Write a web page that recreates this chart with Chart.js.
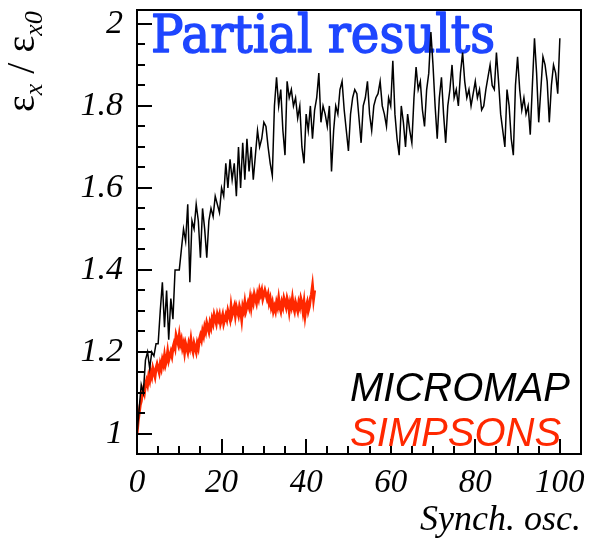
<!DOCTYPE html>
<html>
<head>
<meta charset="utf-8">
<script src="https://cdn.jsdelivr.net/npm/chart.js@4.4.1/dist/chart.umd.min.js"></script>
<style>
  html, body { margin: 0; padding: 0; background: #fff; }
</style>
</head>
<body>
<canvas id="emitChart" width="592" height="542"></canvas>
<script>
// tick labels
const xTickLabels = [0, 20, 40, 60, 80, 100];
const yTickLabels = [1, 1.2, 1.4, 1.6, 1.8, 2];

// MICROMAP: one sample every 0.5 synch. osc., 0 .. 100
const micromapStep = 0.5;
const micromap = [
  1.00, 1.06, 1.12, 1.10, 1.18, 1.20, 1.16, 1.20, 1.19, 1.22,
  1.22, 1.30, 1.37, 1.26, 1.35, 1.23, 1.33, 1.28, 1.40, 1.40,
  1.40, 1.45, 1.50, 1.47, 1.56, 1.37, 1.52, 1.50, 1.56, 1.52,
  1.43, 1.55, 1.50, 1.43, 1.52, 1.55, 1.53, 1.58, 1.56, 1.54,
  1.60, 1.58, 1.66, 1.60, 1.67, 1.62, 1.66, 1.58, 1.70, 1.60,
  1.71, 1.62, 1.72, 1.64, 1.70, 1.62, 1.68, 1.74, 1.70, 1.72,
  1.76, 1.75, 1.70, 1.66, 1.63, 1.80, 1.87, 1.80, 1.84, 1.74,
  1.68, 1.86, 1.82, 1.84, 1.80, 1.82, 1.77, 1.80, 1.70, 1.66,
  1.78, 1.74, 1.80, 1.72, 1.79, 1.82, 1.88, 1.76, 1.80, 1.78,
  1.75, 1.80, 1.64, 1.74, 1.80, 1.78, 1.84, 1.86, 1.79, 1.74,
  1.69, 1.78, 1.82, 1.84, 1.83, 1.77, 1.71, 1.80, 1.82, 1.86,
  1.78, 1.74, 1.80, 1.82, 1.83, 1.86, 1.80, 1.78, 1.75, 1.82,
  1.80, 1.91, 1.78, 1.72, 1.68, 1.80, 1.76, 1.70, 1.78, 1.74,
  1.71, 1.82, 1.895, 1.84, 1.86, 1.79, 1.75, 1.84, 1.88, 1.98,
  1.90, 1.80, 1.72, 1.82, 1.87, 1.78, 1.71, 1.80, 1.84, 1.90,
  1.82, 1.84, 1.80, 1.88, 1.93, 1.86, 1.82, 1.84, 1.80, 1.83,
  1.86, 1.82, 1.84, 1.79, 1.80, 1.84, 1.87, 1.90, 1.85, 1.84,
  1.93, 1.86, 1.78, 1.74, 1.70, 1.84, 1.80, 1.72, 1.68, 1.85,
  1.92, 1.84, 1.79, 1.82, 1.78, 1.80, 1.73, 1.85, 1.965, 1.88,
  1.76, 1.84, 1.92, 1.90, 1.86, 1.76, 1.85, 1.90, 1.88, 1.83,
  1.965
];

// SIMPSONS: one sample every 0.25 synch. osc., 0 .. 42
const simpsonsStep = 0.25;
const simpsons = [
  1.00, 1.03, 1.05, 1.07, 1.08,
  1.10, 1.11, 1.10, 1.12,  1.13, 1.12, 1.14, 1.13,
  1.15, 1.14, 1.16, 1.15,  1.14, 1.16, 1.17, 1.16,
  1.15, 1.17, 1.16, 1.18,  1.17, 1.19, 1.17, 1.18,
  1.20, 1.18, 1.19, 1.20,  1.19, 1.21, 1.22, 1.21,
  1.24, 1.23, 1.22, 1.24,  1.22, 1.23, 1.21, 1.22,
  1.20, 1.22, 1.21, 1.20,  1.22, 1.21, 1.23, 1.21,
  1.20, 1.22, 1.21, 1.20,  1.22, 1.21, 1.23, 1.24,
  1.23, 1.25, 1.24, 1.26,  1.25, 1.27, 1.26, 1.25,
  1.27, 1.26, 1.28, 1.27,  1.29, 1.28, 1.27, 1.29,
  1.28, 1.29, 1.27, 1.28,  1.29, 1.27, 1.28, 1.29,
  1.28, 1.30, 1.29, 1.28,  1.31, 1.29, 1.30, 1.31,
  1.29, 1.31, 1.30, 1.29,  1.31, 1.30, 1.28, 1.31,
  1.30, 1.32, 1.30, 1.31,  1.32, 1.31, 1.33, 1.31,
  1.33, 1.32, 1.34, 1.33,  1.32, 1.34, 1.33, 1.35,
  1.34, 1.35, 1.33, 1.34,  1.35, 1.34, 1.33, 1.34,
  1.32, 1.33, 1.31, 1.32,  1.30, 1.31, 1.30, 1.32,
  1.31, 1.33, 1.31, 1.30,  1.32, 1.31, 1.33, 1.32,
  1.31, 1.33, 1.32, 1.30,  1.32, 1.31, 1.33, 1.31,
  1.30, 1.32, 1.31, 1.30,  1.32, 1.31, 1.33, 1.32,
  1.30, 1.32, 1.29, 1.31,  1.32, 1.30, 1.31, 1.33,
  1.34, 1.36, 1.33, 1.35
];

const seriesNames = ['MICROMAP', 'SIMPSONS'];
const seriesColors = ['#000000', '#ff2800'];

const xMinorStep = 5, xMajorStep = 20;
const yMinorStep = 0.05, yMajorStep = 0.2;

function toPoints(values, step) {
  return values.map(function (v, i) { return { x: i * step, y: v }; });
}

// frame + inward ticks, headline, legend words and y title
const frameTicks = {
  id: 'frameTicks',
  beforeDatasetsDraw(chart) {
    const ctx = chart.ctx;
    ctx.save();
    ctx.fillStyle = '#1e46ff';
    ctx.strokeStyle = '#1e46ff';
    ctx.lineWidth = 1.6;
    ctx.lineJoin = 'round';
    ctx.font = '53px "DejaVu Serif"';
    ctx.textBaseline = 'alphabetic';
    const txt = 'Partial results';
    const w = ctx.measureText(txt).width;
    ctx.translate(151, 52);
    ctx.scale(344 / w, 1);
    ctx.fillText(txt, 0, 0);
    ctx.strokeText(txt, 0, 0);
    ctx.restore();
  },
  afterDraw(chart) {
    const ctx = chart.ctx, a = chart.chartArea;
    const xs = chart.scales.x, ys = chart.scales.y;

    ctx.save();
    ctx.strokeStyle = '#000';
    ctx.lineWidth = 2;
    for (let i = 0; i <= 21; i++) {
      const v = i * xMinorStep;
      if (v > xs.max) break;
      const px = Math.round(xs.getPixelForValue(v));
      const len = (v % xMajorStep === 0) ? 15 : 8;
      ctx.beginPath();
      ctx.moveTo(px, a.bottom);
      ctx.lineTo(px, a.bottom - len);
      ctx.stroke();
    }
    for (let i = 0; i <= 41; i++) {
      const v = i * yMinorStep;
      if (v < ys.min || v > ys.max) continue;
      const py = Math.round(ys.getPixelForValue(v));
      const major = Math.abs(v / yMajorStep - Math.round(v / yMajorStep)) < 1e-6;
      ctx.beginPath();
      ctx.moveTo(a.left, py);
      ctx.lineTo(a.left + (major ? 15 : 8), py);
      ctx.stroke();
    }
    ctx.strokeRect(a.left, a.top, a.right - a.left, a.bottom - a.top);
    ctx.restore();

    // legend as plain coloured words
    ctx.save();
    ctx.font = 'italic 40px "Liberation Sans"';
    ctx.textBaseline = 'alphabetic';
    chart.data.datasets.forEach(function (ds, i) {
      ctx.fillStyle = ds.borderColor;
      ctx.fillText(ds.label, 350, 401 + i * 45);
    });
    ctx.restore();

    // y title: eps_x / eps_x0, rotated
    ctx.save();
    ctx.translate(34, 112);
    ctx.rotate(-Math.PI / 2);
    ctx.fillStyle = '#000';
    let x = 0;
    const big = '40px "Liberation Serif"';
    const sub = 'italic 26px "Liberation Serif"';
    const parts = [['ε', big, 0], ['x', sub, 8], [' / ', big, 0], ['ε', big, 0], ['x0', sub, 8]];
    parts.forEach(function (p) {
      ctx.font = p[1];
      ctx.fillText(p[0], x, p[2]);
      x += ctx.measureText(p[0]).width;
    });
    ctx.restore();
  }
};

const ctx = document.getElementById('emitChart').getContext('2d');
const emitChart = new Chart(ctx, {
  type: 'line',
  data: {
    datasets: [{
      label: seriesNames[0],
      data: toPoints(micromap, micromapStep),
      borderColor: seriesColors[0],
      borderWidth: 1.5,
      pointRadius: 0,
      tension: 0
    }, {
      label: seriesNames[1],
      data: toPoints(simpsons, simpsonsStep),
      borderColor: seriesColors[1],
      borderWidth: 3,
      pointRadius: 0,
      tension: 0
    }]
  },
  options: {
    responsive: false,
    animation: false,
    layout: { padding: { top: 10, right: 11, left: 0, bottom: 0 } },
    plugins: {
      legend: { display: false },
      tooltip: { enabled: false }
    },
    scales: {
      x: {
        type: 'linear',
        min: 0,
        max: 105,
        grid: { display: false, drawTicks: false },
        border: { display: false },
        afterBuildTicks: function (scale) {
          scale.ticks = xTickLabels.map(function (v) { return { value: v }; });
        },
        afterFit: function (scale) {
          scale.height = 88;
          scale.paddingLeft = 0;
          scale.paddingRight = 0;
        },
        ticks: {
          color: '#000',
          padding: 10,
          maxRotation: 0,
          font: { family: 'Liberation Serif', style: 'italic', size: 33 }
        },
        title: {
          display: true,
          text: 'Synch. osc.',
          align: 'end',
          color: '#000',
          padding: { top: 0, bottom: 0 },
          font: { family: 'Liberation Serif', style: 'italic', size: 36 }
        }
      },
      y: {
        type: 'linear',
        min: 0.951,
        max: 2.034,
        grid: { display: false, drawTicks: false },
        border: { display: false },
        afterBuildTicks: function (scale) {
          scale.ticks = yTickLabels.map(function (v) { return { value: v }; });
        },
        afterFit: function (scale) {
          scale.width = 137;
          scale.paddingTop = 0;
          scale.paddingBottom = 0;
        },
        ticks: {
          color: '#000',
          padding: 14,
          callback: function (v) { return String(Math.round(v * 10) / 10); },
          font: { family: 'Liberation Serif', style: 'italic', size: 34 }
        }
      }
    }
  },
  plugins: [frameTicks]
});
</script>
</body>
</html>
